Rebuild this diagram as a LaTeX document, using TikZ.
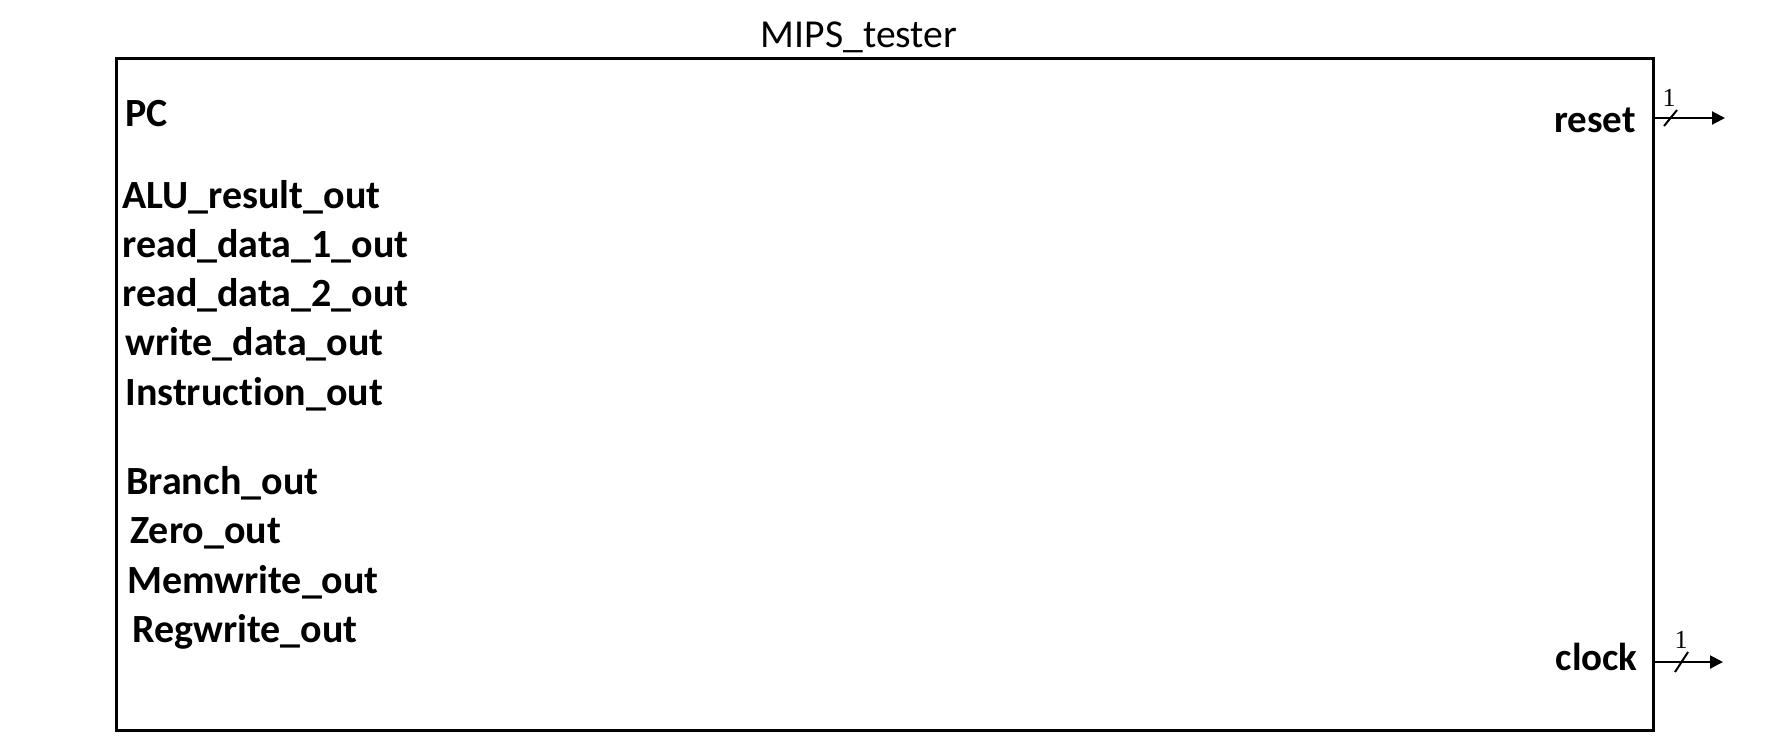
\documentclass[tikz,border=0pt]{standalone}
\usepackage{fontspec}
\setmainfont{Carlito}[Ligatures=NoCommon]
\newfontfamily\widthfont{Liberation Serif}
\usetikzlibrary{arrows.meta}

\tikzset{
    port/.style={anchor=base west, inner sep=0pt, font=\fontsize{20}{22}\selectfont\bfseries},
    outport/.style={anchor=base east, inner sep=0pt, font=\fontsize{19.5}{22}\selectfont\bfseries},
    wire/.style={line width=1pt, -{Triangle[length=6.5pt,width=6.5pt]}},
    buswidth/.style={inner sep=0pt, font=\fontsize{13}{15}\selectfont\widthfont}
}

\begin{document}
\begin{tikzpicture}[x=0.5pt, y=-0.5pt]
    \useasboundingbox (0,0) rectangle (1775,736);

    % Draw the tester block and its title
    \draw[line width=1.5pt] (116,58) rectangle (1653,730);
    \node[anchor=base, inner sep=0pt, font=\fontsize{19.8}{22}\selectfont] (title) at (859,47) {MIPS\_tester};

    % Signals on the left side
    \foreach \name/\txt/\x/\y in {pc/PC/125/126, alu/ALU\_result\_out/122/208,
                                  rdone/read\_data\_1\_out/122/257, rdtwo/read\_data\_2\_out/122/306,
                                  wd/write\_data\_out/125/355, instr/Instruction\_out/125/405,
                                  branch/Branch\_out/126/494, zero/Zero\_out/130/543,
                                  memwrite/Memwrite\_out/127/593, regwrite/Regwrite\_out/132/642} {
        \node[port] (\name) at (\x,\y) {\txt};
    }

    % Signals on the right side
    \node[outport] (reset) at (1636,132) {reset};
    \node[outport] (clock) at (1638,670) {clock};

    % Output wires with bus width marks
    \coordinate (resetin) at (1653,118);
    \coordinate (resetout) at (1725,118);
    \draw[wire] (resetin) -- (resetout);
    \draw[line width=1pt] (1670.5,118) +(-6.5,8) -- +(6.5,-8);
    \node[buswidth] (resetw) at (1669,98) {1};

    \coordinate (clockin) at (1653,662);
    \coordinate (clockout) at (1723,662);
    \draw[wire] (clockin) -- (clockout);
    \draw[line width=1pt] (1681.5,662) +(-6.5,10) -- +(6.5,-10);
    \node[buswidth] (clockw) at (1681,640) {1};
\end{tikzpicture}
\end{document}
